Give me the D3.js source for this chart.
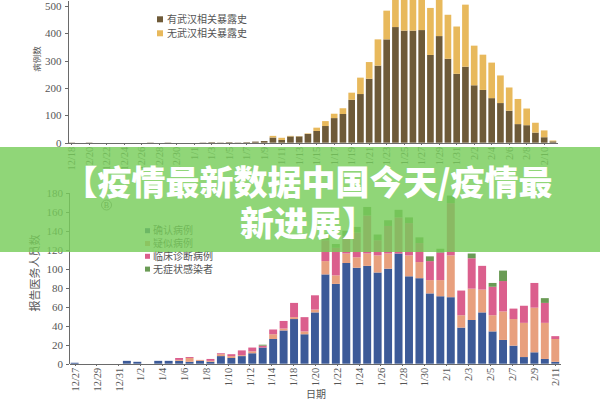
<!DOCTYPE html>
<html><head><meta charset="utf-8">
<script src="https://cdn.jsdelivr.net/npm/d3@7"></script>
<style>
body{margin:0;background:#fff}
svg{display:block}
.ax path,.ax line{stroke:#6a6a6a;stroke-width:1;shape-rendering:crispEdges}
.ax text{fill:#555;font-family:"Liberation Serif","DejaVu Serif",serif}
</style>
</head><body>
<svg id="c" width="600" height="400"></svg>
<script>
// ---------- Top chart data ----------
const topDates = ["12/18","12/19","12/20","12/21","12/22","12/23","12/24","12/25","12/26","12/27","12/28","12/29","12/30","12/31",
"1/1","1/2","1/3","1/4","1/5","1/6","1/7","1/8","1/9","1/10","1/11","1/12","1/13","1/14","1/15","1/16","1/17","1/18","1/19","1/20",
"1/21","1/22","1/23","1/24","1/25","1/26","1/27","1/28","1/29","1/30","1/31","2/1","2/2","2/3","2/4","2/5","2/6","2/7","2/8","2/9","2/10","2/11"];
const topWuhan = [1,0,1,0,0,0,0,0,0,1,0,1,0,0,0,1,2,1,2,1,2,4,6,
19,10,23,23,32,43,61,90,105,157,178,234,282,378,423,410,410,412,321,390,307,252,278,210,193,163,145,117,68,64,37,20,5];
const topNonWuhan = [0,0,0,0,0,0,0,0,0,0,0,0,0,0,0,0,0,0,0,0,0,0,0,
6,8,2,1,2,12,18,16,21,26,60,61,96,105,137,140,130,140,172,145,161,173,227,145,129,130,101,85,92,61,36,25,3];
const topTickLabels = ["12/18","12/20","12/22","12/24","12/26","12/28","12/30","1/1","1/3","1/5","1/7","1/9","1/11","1/13","1/15",
"1/17","1/19","1/21","1/23","1/25","1/27","1/29","1/31","2/2","2/4","2/6","2/8","2/10"];
const topYTicks = [0,100,200,300,400,500];
const topSeries = ["有武汉相关暴露史","无武汉相关暴露史"];

// ---------- Bottom chart data ----------
const botDates = ["12/27","12/28","12/29","12/30","12/31","1/1","1/2","1/3","1/4","1/5","1/6","1/7","1/8","1/9","1/10","1/11","1/12",
"1/13","1/14","1/15","1/16","1/17","1/18","1/19","1/20","1/21","1/22","1/23","1/24","1/25","1/26","1/27","1/28","1/29","1/30","1/31",
"2/1","2/2","2/3","2/4","2/5","2/6","2/7","2/8","2/9","2/10","2/11"];
const botConfirmed = [1,0,0,0,0,3,2,0,3,3,3,2,3,2,8,6,8,11,17,26,35,47,31,54,94,84,106,101,103,96,100,116,92,90,74,71,70,38,46,54,34,25,19,7,12,5,2];
const botSuspected = [0,0,0,0,0,0,0,0,0,0,1,4,1,1,2,2,1,2,0,5,2,2,3,3,14,9,10,11,13,18,16,0,22,17,14,17,44,13,33,24,17,30,28,36,47,38,24];
const botClinical = [0,0,0,0,0,0,0,0,0,0,2,1,0,2,1,2,5,4,2,5,8,15,15,15,22,29,18,26,40,16,29,38,34,20,20,29,55,26,32,25,30,32,11,18,26,21,3];
const botAsymptomatic = [0,0,0,0,0,0,0,0,0,0,0,0,0,0,0,0,0,0,1,0,0,0,0,0,7,4,6,6,9,6,6,8,6,6,5,4,8,0,5,0,4,11,0,0,0,5,0];
const botTickLabels = ["12/27","12/29","12/31","1/2","1/4","1/6","1/8","1/10","1/12","1/14","1/18","1/20","1/22","1/24","1/26",
"1/28","1/30","2/1","2/3","2/5","2/7","2/9","2/11"];
const botYTicks = [0,20,40,60,80,100,120,140,160,180];
const botSeries = ["确认病例","疑似病例","临床诊断病例","无症状感染者"];

const bannerLines = ["【疫情最新数据中国今天/疫情最","新进展】"];

// ---------- Drawing ----------
const svg = d3.select("#c");
const cjk = '"Noto Sans CJK SC","Noto Sans CJK JP",sans-serif';

// Top chart
const topColors = ["#6e5a38","#e8b95c"];
const xTop = d3.scaleBand().domain(topDates).range([67.3,557.3]).paddingInner(0.24).paddingOuter(0.12);
const yTop = d3.scaleLinear().domain([0,522]).range([142.7,0]);
const topRows = topDates.map((d,i)=>({date:d,a:topWuhan[i],b:topNonWuhan[i]}));
const topStack = d3.stack().keys(["a","b"])(topRows);
const gTop = svg.append("g");
gTop.selectAll("g.s").data(topStack).join("g").attr("fill",(d,i)=>topColors[i])
  .selectAll("rect").data(d=>d.filter(p=>p[1]>p[0])).join("rect")
  .attr("x",p=>xTop(p.data.date)).attr("width",xTop.bandwidth())
  .attr("y",p=>yTop(p[1])).attr("height",p=>yTop(p[0])-yTop(p[1]));

gTop.append("g").attr("class","ax").attr("transform","translate(67.5,0)")
  .call(d3.axisLeft(yTop).tickValues(topYTicks).tickSize(3).tickSizeOuter(0).tickPadding(3))
  .call(g=>g.selectAll("text").attr("font-size",11));
gTop.append("g").attr("class","ax").attr("transform","translate(0,142.7)")
  .call(d3.axisBottom(xTop).tickValues(topTickLabels).tickSize(2).tickSizeOuter(0))
  .call(g=>g.selectAll("text").attr("font-size",10.5).attr("transform","rotate(-90)")
     .attr("text-anchor","end").attr("x",-4).attr("y",0).attr("dy","0.35em"));

gTop.append("text").attr("transform","translate(40,59) rotate(-90)").attr("text-anchor","middle")
  .attr("font-family",cjk).attr("font-size",8.5).attr("fill","#555").text("病例数");

const lgTop = gTop.append("g").selectAll("g").data(topSeries).join("g")
  .attr("transform",(d,i)=>`translate(157,${19.3+i*14})`);
lgTop.append("rect").attr("x",0).attr("y",-3).attr("width",6).attr("height",6).attr("fill",(d,i)=>topColors[i]);
lgTop.append("text").attr("x",10).attr("y",3.6).attr("font-family",cjk).attr("font-size",10).attr("fill","#555").text(d=>d);

// Bottom chart
const botColors = ["#3c5a98","#e8a07e","#db5f8d","#6a9b55"];
const xBot = d3.scaleBand().domain(botDates).range([69.4,560.5]).paddingInner(0.24).paddingOuter(0.12);
const yBot = d3.scaleLinear().domain([0,180]).range([363.7,192.7]);
const botRows = botDates.map((d,i)=>({date:d,c:botConfirmed[i],s:botSuspected[i],k:botClinical[i],a:botAsymptomatic[i]}));
const botStack = d3.stack().keys(["c","s","k","a"])(botRows);
const gBot = svg.append("g");
gBot.selectAll("g.s").data(botStack).join("g").attr("fill",(d,i)=>botColors[i])
  .selectAll("rect").data(d=>d.filter(p=>p[1]>p[0])).join("rect")
  .attr("x",p=>xBot(p.data.date)).attr("width",xBot.bandwidth())
  .attr("y",p=>yBot(p[1])).attr("height",p=>yBot(p[0])-yBot(p[1]));

gBot.append("g").attr("class","ax").attr("transform","translate(69,0)")
  .call(d3.axisLeft(yBot).tickValues(botYTicks).tickSize(3).tickSizeOuter(0).tickPadding(3))
  .call(g=>g.selectAll("text").attr("font-size",11));
gBot.append("g").attr("class","ax").attr("transform","translate(0,363.7)")
  .call(d3.axisBottom(xBot).tickValues([]).tickSizeOuter(0));
const bw = xBot.bandwidth();
const xLab = d3.scalePoint().domain(botTickLabels)
  .range([xBot(botDates[0])+bw/2, xBot(botDates[botDates.length-1])+bw/2]);
gBot.append("g").attr("class","ax").attr("transform","translate(0,363.7)")
  .call(d3.axisBottom(xLab).tickSize(2).tickSizeOuter(0))
  .call(g=>g.select(".domain").remove())
  .call(g=>g.selectAll("text").attr("font-size",10.5).attr("transform","rotate(-90)")
     .attr("text-anchor","end").attr("x",-4).attr("y",0).attr("dy","0.35em"));

gBot.append("text").attr("transform","translate(39,273) rotate(-90)").attr("text-anchor","middle")
  .attr("font-family",cjk).attr("font-size",11).attr("fill","#555").text("报告医务人员数");
gBot.append("text").attr("x",316).attr("y",398).attr("text-anchor","middle")
  .attr("font-family",cjk).attr("font-size",10).attr("fill","#555").text("日期");

gBot.append("circle").attr("cx",106.5).attr("cy",205).attr("r",5).attr("fill","none").attr("stroke","#666").attr("stroke-width",0.8);
gBot.append("text").attr("x",106.5).attr("y",208).attr("text-anchor","middle")
  .attr("font-family",'"Liberation Serif",serif').attr("font-size",8).attr("fill","#555").text("B");

const lgBot = gBot.append("g").selectAll("g").data(botSeries).join("g")
  .attr("transform",(d,i)=>`translate(145,${230.7+i*12.8})`);
lgBot.append("rect").attr("x",0).attr("y",-2.5).attr("width",5).attr("height",5).attr("fill",(d,i)=>botColors[i]);
lgBot.append("text").attr("x",8).attr("y",3.6).attr("font-family",cjk).attr("font-size",10).attr("fill","#555").text(d=>d);

// Banner overlay
const gB = svg.append("g");
gB.append("rect").attr("x",0).attr("y",147).attr("width",600).attr("height",105)
  .attr("fill","rgb(120,205,90)").attr("fill-opacity",0.82);
gB.selectAll("text").data(bannerLines).join("text")
  .attr("x",308).attr("y",(d,i)=>194.5+i*41).attr("text-anchor","middle")
  .attr("font-family",cjk).attr("font-weight",900).attr("font-size",34).attr("fill","#fff")
  .text(d=>d);
</script>
</body></html>
